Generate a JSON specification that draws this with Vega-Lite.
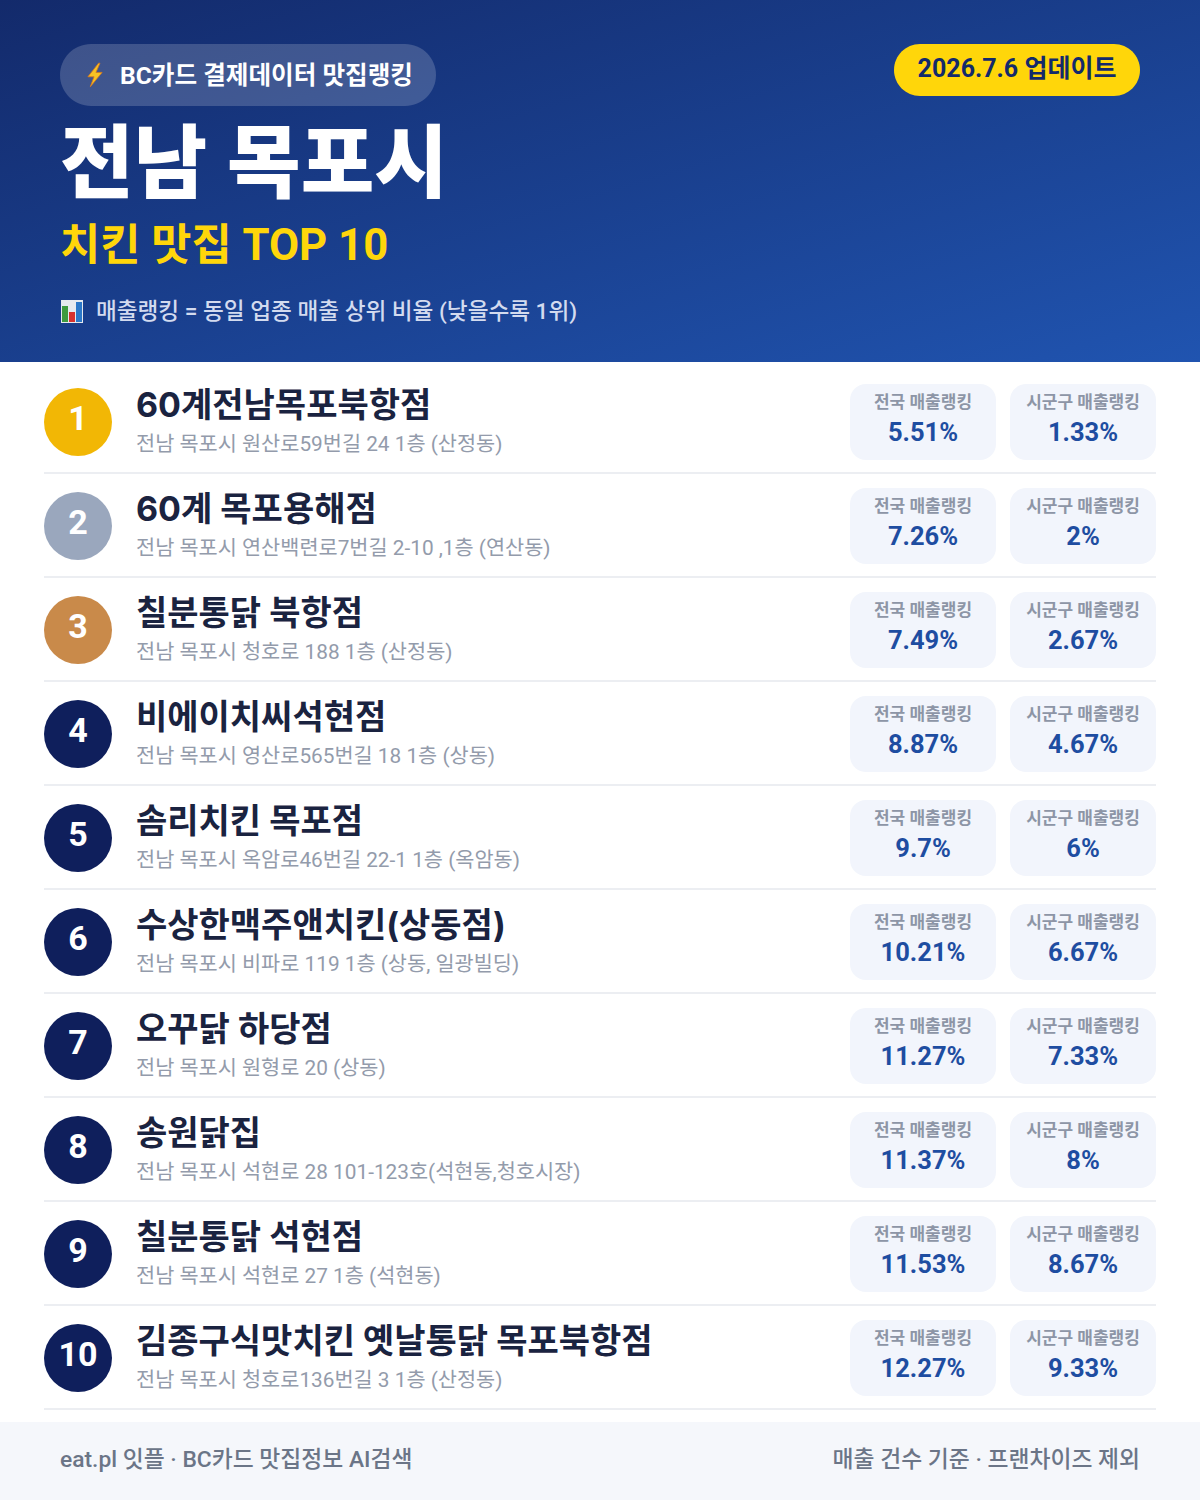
{
  "$schema": "https://vega.github.io/schema/vega-lite/v6.json",
  "autosize": {"type": "fit", "contains": "padding"},
  "padding": 0,
  "width": 1200,
  "height": 1500,
  "background": "#ffffff",
  "view": {"stroke": null},
  "config": {"font": "Roboto, Noto Sans CJK KR", "text": {"font": "Roboto, Noto Sans CJK KR", "baseline": "middle"}},
  "datasets": {
    "shops": [
      {"rank": 1, "name": "60계전남목포북항점", "address": "전남 목포시 원산로59번길 24 1층 (산정동)"},
      {"rank": 2, "name": "60계 목포용해점", "address": "전남 목포시 연산백련로7번길 2-10 ,1층 (연산동)"},
      {"rank": 3, "name": "칠분통닭 북항점", "address": "전남 목포시 청호로 188 1층 (산정동)"},
      {"rank": 4, "name": "비에이치씨석현점", "address": "전남 목포시 영산로565번길 18 1층 (상동)"},
      {"rank": 5, "name": "솜리치킨 목포점", "address": "전남 목포시 옥암로46번길 22-1 1층 (옥암동)"},
      {"rank": 6, "name": "수상한맥주앤치킨(상동점)", "address": "전남 목포시 비파로 119 1층 (상동, 일광빌딩)"},
      {"rank": 7, "name": "오꾸닭 하당점", "address": "전남 목포시 원형로 20 (상동)"},
      {"rank": 8, "name": "송원닭집", "address": "전남 목포시 석현로 28 101-123호(석현동,청호시장)"},
      {"rank": 9, "name": "칠분통닭 석현점", "address": "전남 목포시 석현로 27 1층 (석현동)"},
      {"rank": 10, "name": "김종구식맛치킨 옛날통닭 목포북항점", "address": "전남 목포시 청호로136번길 3 1층 (산정동)"}
    ],
    "rankings": [
      {"rank": 1, "scope": "전국 매출랭킹", "share": 0.0551},
      {"rank": 1, "scope": "시군구 매출랭킹", "share": 0.0133},
      {"rank": 2, "scope": "전국 매출랭킹", "share": 0.0726},
      {"rank": 2, "scope": "시군구 매출랭킹", "share": 0.02},
      {"rank": 3, "scope": "전국 매출랭킹", "share": 0.0749},
      {"rank": 3, "scope": "시군구 매출랭킹", "share": 0.0267},
      {"rank": 4, "scope": "전국 매출랭킹", "share": 0.0887},
      {"rank": 4, "scope": "시군구 매출랭킹", "share": 0.0467},
      {"rank": 5, "scope": "전국 매출랭킹", "share": 0.097},
      {"rank": 5, "scope": "시군구 매출랭킹", "share": 0.06},
      {"rank": 6, "scope": "전국 매출랭킹", "share": 0.1021},
      {"rank": 6, "scope": "시군구 매출랭킹", "share": 0.0667},
      {"rank": 7, "scope": "전국 매출랭킹", "share": 0.1127},
      {"rank": 7, "scope": "시군구 매출랭킹", "share": 0.0733},
      {"rank": 8, "scope": "전국 매출랭킹", "share": 0.1137},
      {"rank": 8, "scope": "시군구 매출랭킹", "share": 0.08},
      {"rank": 9, "scope": "전국 매출랭킹", "share": 0.1153},
      {"rank": 9, "scope": "시군구 매출랭킹", "share": 0.0867},
      {"rank": 10, "scope": "전국 매출랭킹", "share": 0.1227},
      {"rank": 10, "scope": "시군구 매출랭킹", "share": 0.0933}
    ]
  },
  "layer": [
    {
      "data": {"values": [{"panel": "header"}]},
      "mark": {
        "type": "rect",
        "fill": {
          "gradient": "linear", "x1": 0, "y1": 0, "x2": 1, "y2": 1,
          "stops": [{"offset": 0, "color": "#132a6b"}, {"offset": 1, "color": "#2054b0"}]
        }
      },
      "encoding": {"x": {"value": 0}, "x2": {"value": 1200}, "y": {"value": 0}, "y2": {"value": 362}}
    },
    {
      "data": {"values": [{"panel": "source pill"}]},
      "mark": {"type": "rect", "fill": "#ffffff", "opacity": 0.18, "cornerRadius": 31},
      "encoding": {"x": {"value": 60}, "x2": {"value": 436}, "y": {"value": 44}, "y2": {"value": 106}}
    },
    {
      "data": {"values": [{"panel": "update pill"}]},
      "mark": {"type": "rect", "fill": "#ffd60a", "cornerRadius": 26},
      "encoding": {"x": {"value": 894}, "x2": {"value": 1140}, "y": {"value": 44}, "y2": {"value": 96}}
    },
    {
      "data": {"values": [{"panel": "footer"}]},
      "mark": {"type": "rect", "fill": "#f5f7fb"},
      "encoding": {"x": {"value": 0}, "x2": {"value": 1200}, "y": {"value": 1422}, "y2": {"value": 1500}}
    },
    {
      "data": {"values": [{"icon": "bolt"}]},
      "mark": {
        "type": "point", "filled": true, "fill": "#f7c325", "stroke": "#d9791a", "strokeWidth": 0.8, "opacity": 1, "size": 560,
        "shape": "M0.3,-1L-0.6,0.15L-0.08,0.15L-0.4,1L0.6,-0.22L0.08,-0.22L0.42,-1Z"
      },
      "encoding": {"x": {"value": 95}, "y": {"value": 75}}
    },
    {
      "data": {"values": [{"icon": "chart"}]},
      "mark": {"type": "rect", "fill": "#e6eaef"},
      "encoding": {"x": {"value": 61}, "x2": {"value": 83}, "y": {"value": 300}, "y2": {"value": 323}}
    },
    {
      "data": {"values": [{"icon": "chart"}]},
      "mark": {"type": "rect", "fill": "#3f9b3f"},
      "encoding": {"x": {"value": 62}, "x2": {"value": 68}, "y": {"value": 306}, "y2": {"value": 322}}
    },
    {
      "data": {"values": [{"icon": "chart"}]},
      "mark": {"type": "rect", "fill": "#d8322e"},
      "encoding": {"x": {"value": 69}, "x2": {"value": 75}, "y": {"value": 312}, "y2": {"value": 322}}
    },
    {
      "data": {"values": [{"icon": "chart"}]},
      "mark": {"type": "rect", "fill": "#2b78c9"},
      "encoding": {"x": {"value": 76}, "x2": {"value": 82}, "y": {"value": 302}, "y2": {"value": 322}}
    },
    {
      "data": {"values": [{"label": "BC카드 결제데이터 맛집랭킹"}]},
      "mark": {"type": "text", "fontSize": 24.6, "fontWeight": 700, "fill": "#ffffff", "align": "left"},
      "encoding": {"x": {"value": 120}, "y": {"value": 77}, "text": {"field": "label"}}
    },
    {
      "data": {"values": [{"label": "2026.7.6 업데이트"}]},
      "mark": {"type": "text", "fontSize": 25, "fontWeight": 700, "fill": "#132a6b", "align": "center"},
      "encoding": {"x": {"value": 1017}, "y": {"value": 69}, "text": {"field": "label"}}
    },
    {
      "data": {"values": [{"label": "전남 목포시"}]},
      "mark": {"type": "text", "fontSize": 80, "fontWeight": 900, "fill": "#ffffff", "align": "left"},
      "encoding": {"x": {"value": 60}, "y": {"value": 167}, "text": {"field": "label"}}
    },
    {
      "data": {"values": [{"label": "치킨 맛집 TOP 10"}]},
      "mark": {"type": "text", "fontSize": 43.7, "fontWeight": 700, "fill": "#ffd60a", "align": "left"},
      "encoding": {"x": {"value": 60}, "y": {"value": 247}, "text": {"field": "label"}}
    },
    {
      "data": {"values": [{"label": "매출랭킹 = 동일 업종 매출 상위 비율 (낮을수록 1위)"}]},
      "mark": {"type": "text", "fontSize": 22.6, "fontWeight": 500, "fill": "#d3dbef", "align": "left"},
      "encoding": {"x": {"value": 96}, "y": {"value": 312}, "text": {"field": "label"}}
    },
    {
      "data": {"values": [{"label": "eat.pl 잇플 · BC카드 맛집정보 AI검색"}]},
      "mark": {"type": "text", "fontSize": 22.8, "fontWeight": 500, "fill": "#6b7587", "align": "left"},
      "encoding": {"x": {"value": 60}, "y": {"value": 1460}, "text": {"field": "label"}}
    },
    {
      "data": {"values": [{"label": "매출 건수 기준 · 프랜차이즈 제외"}]},
      "mark": {"type": "text", "fontSize": 22.8, "fontWeight": 500, "fill": "#6b7587", "align": "right"},
      "encoding": {"x": {"value": 1140}, "y": {"value": 1460}, "text": {"field": "label"}}
    },
    {
      "data": {"name": "shops"},
      "mark": {"type": "rule", "stroke": "#eceef2", "strokeWidth": 2},
      "encoding": {
        "x": {"value": 44},
        "x2": {"value": 1156},
        "y": {"field": "rank", "type": "quantitative", "scale": {"domain": [-3.0577, 11.3654], "range": [0, 1500], "nice": false, "zero": false}, "axis": null},
        "yOffset": {"value": 51}
      }
    },
    {
      "data": {"name": "shops"},
      "mark": {"type": "point", "filled": true, "shape": "circle", "size": 4624, "opacity": 1},
      "encoding": {
        "x": {"value": 78},
        "y": {"field": "rank", "type": "quantitative", "axis": null},
        "fill": {
          "field": "rank",
          "type": "ordinal",
          "legend": null,
          "scale": {
            "domain": [1, 2, 3, 4, 5, 6, 7, 8, 9, 10],
            "range": ["#f2b705", "#9aa7bd", "#c98a4a", "#0f1f5c", "#0f1f5c", "#0f1f5c", "#0f1f5c", "#0f1f5c", "#0f1f5c", "#0f1f5c"]
          }
        }
      }
    },
    {
      "data": {"name": "shops"},
      "mark": {"type": "text", "fontSize": 34, "fontWeight": 700, "fill": "#ffffff", "align": "center", "dy": -2},
      "encoding": {
        "x": {"value": 78},
        "y": {"field": "rank", "type": "quantitative", "axis": null},
        "text": {"field": "rank", "type": "nominal"}
      }
    },
    {
      "data": {"name": "shops"},
      "mark": {"type": "text", "font": "Inter, Noto Sans CJK KR", "fontSize": 34, "fontWeight": 700, "fill": "#1a2340", "align": "left", "dy": -15},
      "encoding": {
        "x": {"value": 136},
        "y": {"field": "rank", "type": "quantitative", "axis": null},
        "text": {"field": "name"}
      }
    },
    {
      "data": {"name": "shops"},
      "mark": {"type": "text", "fontSize": 20.8, "fontWeight": 400, "fill": "#939bab", "align": "left", "dy": 23},
      "encoding": {
        "x": {"value": 136},
        "y": {"field": "rank", "type": "quantitative", "axis": null},
        "text": {"field": "address"}
      }
    },
    {
      "data": {"name": "rankings"},
      "mark": {"type": "rect", "fill": "#f2f5fc", "width": 146, "height": 76, "cornerRadius": 16},
      "encoding": {
        "x": {"field": "scope", "type": "nominal", "axis": null, "scale": {"type": "point", "domain": ["전국 매출랭킹", "시군구 매출랭킹"], "range": [923, 1083], "padding": 0}},
        "y": {"field": "rank", "type": "quantitative", "axis": null}
      }
    },
    {
      "data": {"name": "rankings"},
      "mark": {"type": "text", "fontSize": 17, "fontWeight": 700, "fill": "#8d95a6", "align": "center", "dy": -19},
      "encoding": {
        "x": {"field": "scope", "type": "nominal", "axis": null},
        "y": {"field": "rank", "type": "quantitative", "axis": null},
        "text": {"field": "scope"}
      }
    },
    {
      "data": {"name": "rankings"},
      "mark": {"type": "text", "fontSize": 25.5, "fontWeight": 700, "fill": "#1e4da1", "align": "center", "dy": 11},
      "encoding": {
        "x": {"field": "scope", "type": "nominal", "axis": null},
        "y": {"field": "rank", "type": "quantitative", "axis": null},
        "text": {"field": "share", "type": "quantitative", "format": ".4~p"}
      }
    }
  ]
}
